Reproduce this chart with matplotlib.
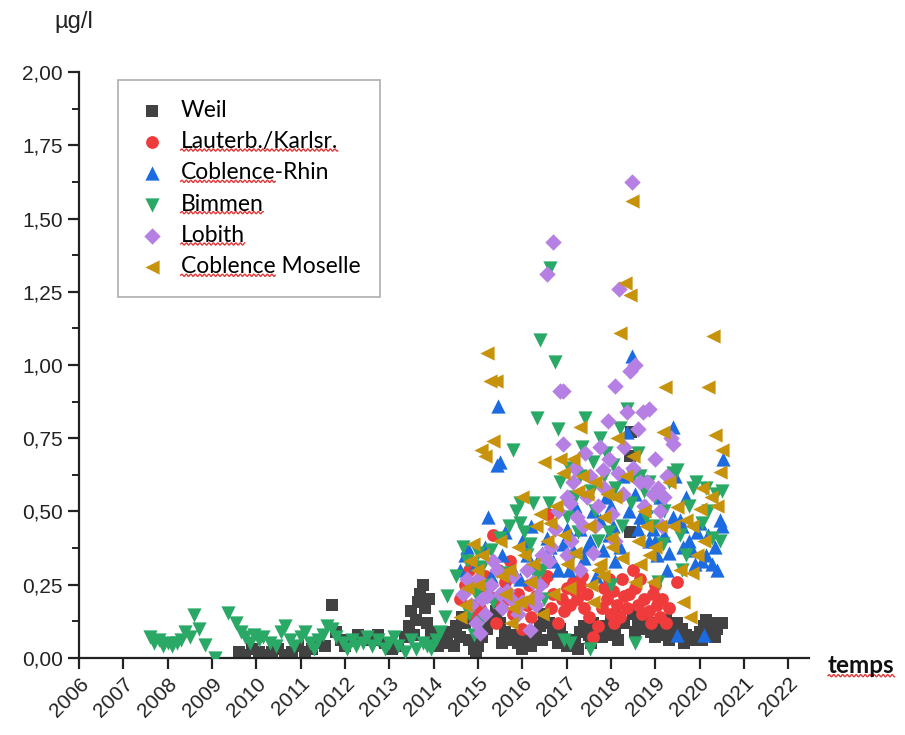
import matplotlib
matplotlib.use("Agg")
import matplotlib.pyplot as plt
import numpy as np
from matplotlib.ticker import MultipleLocator, FuncFormatter
from matplotlib.lines import Line2D
from matplotlib.transforms import IdentityTransform

# --- data (year, µg/l) ---
weil_x = [2009.6, 2009.75, 2009.9, 2010.05, 2010.2, 2010.35, 2010.5, 2010.65, 2010.8, 2010.95,
          2011.1, 2011.25, 2011.4, 2011.55, 2011.7, 2011.8, 2011.9, 2012.0, 2012.15, 2012.3,
          2012.45, 2012.6, 2012.75, 2012.9, 2013.05, 2013.2, 2013.35, 2013.45, 2013.5, 2013.55,
          2013.6, 2013.65, 2013.7, 2013.75, 2013.8, 2013.85, 2013.9, 2013.95, 2014.0, 2014.1,
          2014.2, 2014.3, 2014.4, 2014.5, 2014.6, 2014.7, 2014.8, 2014.9, 2014.95, 2015.0,
          2015.1, 2015.2, 2015.3, 2015.4, 2015.5, 2015.6, 2015.7, 2015.8, 2015.9, 2016.0,
          2016.1, 2016.2, 2016.3, 2016.4, 2016.5, 2016.6, 2016.7, 2016.8, 2016.9, 2017.0,
          2017.1, 2017.2, 2017.3, 2017.4, 2017.5, 2017.6, 2017.7, 2017.8, 2017.9, 2018.0,
          2018.1, 2018.2, 2018.3, 2018.42, 2018.43, 2018.45, 2018.5, 2018.6, 2018.7, 2018.8,
          2018.9, 2019.0, 2019.1, 2019.2, 2019.3, 2019.4, 2019.5, 2019.6, 2019.7, 2019.8,
          2019.9, 2020.0, 2020.05, 2020.1, 2020.2, 2020.3, 2020.4, 2020.5,
          2015.05, 2015.55, 2016.05, 2016.45, 2016.85, 2017.25, 2017.55, 2017.95, 2018.15,
          2018.55, 2018.95, 2019.25, 2019.65, 2020.15, 2020.35, 2014.45, 2014.65]
weil_y = [0.02, 0.01, 0.03, 0.02, 0.01, 0.02, 0.03, 0.01, 0.02, 0.04,
          0.02, 0.03, 0.05, 0.04, 0.18, 0.09, 0.06, 0.04, 0.06, 0.08,
          0.07, 0.06, 0.08, 0.05, 0.03, 0.04, 0.07, 0.11, 0.16, 0.08,
          0.13, 0.19, 0.22, 0.25, 0.17, 0.12, 0.20, 0.09, 0.06, 0.04,
          0.07, 0.05, 0.09, 0.11, 0.07, 0.12, 0.06, 0.03, 0.01, 0.04,
          0.07, 0.10, 0.13, 0.16, 0.12, 0.09, 0.06, 0.08, 0.05, 0.03,
          0.06, 0.04, 0.08, 0.11, 0.15, 0.12, 0.08, 0.05, 0.07, 0.04,
          0.06, 0.05, 0.09, 0.11, 0.08, 0.12, 0.10, 0.07, 0.11, 0.13,
          0.10, 0.14, 0.12, 0.43, 0.69, 0.77, 0.15, 0.12, 0.10, 0.13,
          0.09, 0.07, 0.11, 0.08, 0.06, 0.09, 0.12, 0.10, 0.08, 0.06,
          0.07, 0.09, 0.06, 0.11, 0.08, 0.12, 0.10, 0.12,
          0.10, 0.05, 0.09, 0.06, 0.10, 0.03, 0.05, 0.08, 0.06,
          0.09, 0.12, 0.13, 0.05, 0.13, 0.07, 0.04, 0.14]

lauter_x = [2014.6, 2014.7, 2014.8, 2014.85, 2014.95, 2015.0, 2015.05, 2015.15, 2015.25, 2015.33,
            2015.4, 2015.5, 2015.6, 2015.72, 2015.8, 2015.9, 2016.0, 2016.1, 2016.2, 2016.3,
            2016.46, 2016.55, 2016.58, 2016.65, 2016.8, 2016.9, 2017.0, 2017.07, 2017.14, 2017.23,
            2017.3, 2017.4, 2017.45, 2017.59, 2017.7, 2017.8, 2017.91, 2018.0, 2018.05, 2018.13,
            2018.2, 2018.3, 2018.36, 2018.49, 2018.55, 2018.65, 2018.75, 2018.85, 2018.95, 2019.05,
            2019.1, 2019.15, 2019.25, 2019.48,
            2015.1, 2015.45, 2015.65, 2016.15, 2016.7, 2016.95, 2017.18, 2017.35, 2017.5, 2017.85,
            2018.08, 2018.25, 2018.4, 2018.6, 2018.9, 2019.0, 2019.3, 2016.35, 2017.95, 2018.7]
lauter_y = [0.20, 0.25, 0.30, 0.18, 0.14, 0.23, 0.17, 0.28, 0.21, 0.42,
            0.12, 0.19, 0.26, 0.33, 0.15, 0.22, 0.10, 0.18, 0.14, 0.21,
            0.26, 0.28, 0.49, 0.17, 0.12, 0.20, 0.24, 0.18, 0.26, 0.20,
            0.25, 0.17, 0.22, 0.07, 0.11, 0.17, 0.20, 0.15, 0.23, 0.18,
            0.14, 0.21, 0.17, 0.30, 0.24, 0.27, 0.20, 0.16, 0.22, 0.18,
            0.14, 0.20, 0.12, 0.26,
            0.24, 0.30, 0.20, 0.25, 0.22, 0.16, 0.23, 0.28, 0.14, 0.24,
            0.12, 0.27, 0.22, 0.18, 0.12, 0.25, 0.17, 0.30, 0.27, 0.15]

rhin_x = [2014.6, 2014.7, 2014.75, 2014.85, 2014.95, 2015.05, 2015.22, 2015.3, 2015.43, 2015.45,
          2015.49, 2015.55, 2015.65, 2015.8, 2015.95, 2016.0, 2016.1, 2016.3, 2016.55, 2016.62,
          2016.8, 2016.91, 2017.0, 2017.14, 2017.3, 2017.4, 2017.52, 2017.6, 2017.66, 2017.75,
          2017.82, 2017.95, 2018.0, 2018.1, 2018.27, 2018.36, 2018.47, 2018.55, 2018.65, 2018.72,
          2018.85, 2018.94, 2019.05, 2019.2, 2019.26, 2019.39, 2019.39, 2019.48, 2019.55, 2019.62,
          2019.7, 2019.84, 2019.95, 2020.05, 2020.1, 2020.15, 2020.27, 2020.35, 2020.45, 2020.52,
          2015.15, 2015.6, 2016.2, 2016.45, 2016.7, 2017.05, 2017.2, 2017.45, 2017.9, 2018.05,
          2018.2, 2018.4, 2018.6, 2018.8, 2019.0, 2019.1, 2019.3, 2019.45, 2019.6, 2019.75,
          2019.9, 2020.0, 2020.2, 2020.4, 2020.5]
rhin_y = [0.30, 0.35, 0.38, 0.25, 0.32, 0.22, 0.48, 0.28, 0.66, 0.86,
          0.67, 0.35, 0.24, 0.30, 0.27, 0.40, 0.35, 0.32, 0.41, 0.38,
          0.30, 0.39, 0.44, 0.37, 0.44, 0.34, 0.40, 0.50, 0.28, 0.47,
          0.37, 0.42, 0.52, 0.33, 0.62, 0.77, 1.03, 0.56, 0.48, 0.48,
          0.40, 0.44, 0.35, 0.42, 0.30, 0.79, 0.48, 0.08, 0.47, 0.38,
          0.55, 0.37, 0.43, 0.33, 0.08, 0.35, 0.32, 0.38, 0.47, 0.68,
          0.38, 0.43, 0.45, 0.36, 0.33, 0.30, 0.52, 0.38, 0.55, 0.45,
          0.38, 0.50, 0.44, 0.52, 0.40, 0.55, 0.36, 0.62, 0.45, 0.40,
          0.32, 0.46, 0.42, 0.30, 0.45]

bimmen_x = [2007.6, 2007.7, 2007.8, 2007.9, 2008.0, 2008.1, 2008.2, 2008.3, 2008.4, 2008.5,
            2008.6, 2008.7, 2008.85, 2009.07, 2009.36, 2009.55, 2009.65, 2009.75, 2009.85, 2009.95,
            2010.05, 2010.15, 2010.3, 2010.45, 2010.55, 2010.65, 2010.75, 2010.85, 2011.0, 2011.1,
            2011.2, 2011.3, 2011.4, 2011.5, 2011.6, 2011.7, 2011.8, 2011.95, 2012.05, 2012.15,
            2012.25, 2012.4, 2012.5, 2012.6, 2012.75, 2012.9, 2013.0, 2013.1, 2013.2, 2013.35,
            2013.5, 2013.6, 2013.75, 2013.85, 2013.95, 2014.05, 2014.15, 2014.25, 2014.3, 2014.5,
            2014.66, 2014.75, 2014.8, 2014.9, 2015.0, 2015.1, 2015.2, 2015.35, 2015.5, 2015.6,
            2015.79, 2015.94, 2015.94, 2016.1, 2016.17, 2016.24, 2016.33, 2016.39, 2016.45, 2016.5,
            2016.62, 2016.73, 2016.85, 2016.95, 2017.0, 2017.07, 2017.1, 2017.2, 2017.3, 2017.41,
            2017.52, 2017.55, 2017.65, 2017.75, 2017.85, 2017.95, 2018.0, 2018.1, 2018.2, 2018.36,
            2018.45, 2018.55, 2018.65, 2018.75, 2018.85, 2018.95, 2019.06, 2019.17, 2019.3, 2019.39,
            2019.48, 2019.6, 2019.75, 2019.93, 2020.05, 2020.15, 2020.27, 2020.38, 2020.5,
            2014.95, 2015.05, 2015.3, 2015.7, 2015.85, 2016.05, 2016.3, 2016.6, 2016.8, 2017.05,
            2017.25, 2017.35, 2017.6, 2017.7, 2017.9, 2018.05, 2018.25, 2018.5, 2018.6, 2018.8,
            2019.0, 2019.2, 2019.55, 2019.7, 2019.85, 2020.2, 2020.45]
bimmen_y = [0.07, 0.05, 0.06, 0.04, 0.05, 0.04, 0.05, 0.06, 0.09, 0.07,
            0.145, 0.10, 0.045, 0.00, 0.155, 0.12, 0.09, 0.07, 0.05, 0.08,
            0.06, 0.07, 0.05, 0.04, 0.09, 0.11, 0.06, 0.04, 0.07, 0.09,
            0.05, 0.03, 0.06, 0.08, 0.11, 0.10, 0.07, 0.05, 0.03, 0.06,
            0.04, 0.05, 0.07, 0.04, 0.06, 0.03, 0.05, 0.07, 0.04, 0.02,
            0.06, 0.03, 0.05, 0.04, 0.03, 0.06, 0.09, 0.14, 0.21, 0.28,
            0.38, 0.33, 0.15, 0.08, 0.36, 0.31, 0.25, 0.19, 0.41, 0.29,
            0.71, 0.53, 0.46, 0.35, 0.39, 0.53, 0.82, 1.085, 0.30, 0.20,
            1.33, 1.01, 0.60, 0.06, 0.48, 0.05, 0.34, 0.55, 0.62, 0.82,
            0.03, 0.57, 0.50, 0.75, 0.62, 0.43, 0.25, 0.58, 0.785, 0.85,
            0.53, 0.05, 0.62, 0.57, 0.60, 0.45, 0.26, 0.39, 0.60, 0.63,
            0.64, 0.30, 0.52, 0.60, 0.46, 0.58, 0.41, 0.56, 0.57,
            0.22, 0.12, 0.37, 0.45, 0.50, 0.43, 0.28, 0.53, 0.78, 0.65,
            0.43, 0.72, 0.67, 0.40, 0.70, 0.66, 0.45, 0.62, 0.70, 0.48,
            0.55, 0.50, 0.42, 0.35, 0.58, 0.50, 0.40]

lobith_x = [2014.66, 2014.75, 2014.85, 2014.95, 2015.04, 2015.1, 2015.2, 2015.3, 2015.43, 2015.55,
            2015.65, 2015.8, 2015.9, 2016.0, 2016.17, 2016.25, 2016.33, 2016.45, 2016.55, 2016.6,
            2016.69, 2016.73, 2016.85, 2016.91, 2016.91, 2017.0, 2017.07, 2017.14, 2017.23, 2017.3,
            2017.36, 2017.41, 2017.52, 2017.59, 2017.7, 2017.75, 2017.82, 2017.93, 2018.02, 2018.09,
            2018.1, 2018.18, 2018.27, 2018.36, 2018.42, 2018.47, 2018.55, 2018.65, 2018.72, 2018.81,
            2018.87, 2018.94, 2019.06, 2019.1, 2019.15, 2019.26, 2019.35, 2019.39,
            2015.0, 2015.15, 2015.35, 2015.5, 2015.75, 2016.1, 2016.4, 2016.65, 2016.8, 2017.1,
            2017.2, 2017.45, 2017.65, 2017.85, 2017.95, 2018.15, 2018.3, 2018.5, 2018.6, 2018.75,
            2019.0, 2019.2, 2017.0, 2016.3]
lobith_y = [0.22, 0.27, 0.18, 0.12, 0.085, 0.20, 0.21, 0.25, 0.30, 0.17,
            0.23, 0.28, 0.15, 0.19, 0.095, 0.26, 0.21, 0.35, 1.31, 0.33,
            1.42, 0.44, 0.91, 0.91, 0.73, 0.55, 0.53, 0.60, 0.48, 0.30,
            0.45, 0.70, 0.62, 0.36, 0.52, 0.72, 0.64, 0.81, 0.49, 0.93,
            0.40, 1.26, 0.56, 0.84, 0.98, 1.625, 1.00, 0.60, 0.84, 0.60,
            0.85, 0.56, 0.58, 0.50, 0.45, 0.62, 0.75, 0.73,
            0.27, 0.15, 0.33, 0.22, 0.20, 0.30, 0.25, 0.38, 0.50, 0.40,
            0.65, 0.55, 0.45, 0.58, 0.68, 0.63, 0.72, 0.65, 0.78, 0.52,
            0.68, 0.55, 0.35, 0.18]

moselle_x = [2014.59, 2014.75, 2014.82, 2014.88, 2014.97, 2015.08, 2015.15, 2015.2, 2015.27, 2015.33,
             2015.4, 2015.49, 2015.6, 2015.7, 2015.8, 2015.94, 2016.0, 2016.05, 2016.17, 2016.3,
             2016.39, 2016.5, 2016.55, 2016.62, 2016.7, 2016.85, 2016.91, 2017.0, 2017.14, 2017.25,
             2017.3, 2017.45, 2017.5, 2017.59, 2017.7, 2017.75, 2017.82, 2017.91, 2018.0, 2018.02,
             2018.13, 2018.2, 2018.31, 2018.42, 2018.47, 2018.49, 2018.55, 2018.65, 2018.8, 2018.87,
             2018.94, 2019.1, 2019.17, 2019.21, 2019.39, 2019.48, 2019.62, 2019.78, 2019.84, 2019.84,
             2020.0, 2020.05, 2020.18, 2020.3, 2020.34, 2020.45, 2020.5,
             2014.7, 2015.0, 2015.1, 2015.55, 2015.75, 2015.9, 2016.1, 2016.25, 2016.45, 2016.75,
             2016.95, 2017.05, 2017.2, 2017.35, 2017.55, 2017.65, 2017.85, 2018.1, 2018.25, 2018.35,
             2018.6, 2018.75, 2019.0, 2019.3, 2019.55, 2019.7, 2019.95, 2020.1, 2020.25, 2020.4]
moselle_y = [0.14, 0.24, 0.33, 0.39, 0.30, 0.71, 0.69, 1.04, 0.945, 0.74,
             0.945, 0.40, 0.22, 0.30, 0.17, 0.19, 0.55, 0.35, 0.26, 0.45,
             0.49, 0.67, 0.40, 0.46, 0.22, 0.68, 0.63, 0.32, 0.68, 0.57,
             0.79, 0.56, 0.45, 0.19, 0.30, 0.32, 0.28, 0.56, 0.41, 0.38,
             0.75, 1.11, 1.28, 1.24, 1.56, 0.69, 0.26, 0.32, 0.45, 0.35,
             0.26, 0.45, 0.77, 0.925, 0.45, 0.515, 0.19, 0.14, 0.29, 0.45,
             0.51, 0.58, 0.925, 1.10, 0.76, 0.635, 0.71,
             0.18, 0.25, 0.35, 0.28, 0.12, 0.38, 0.20, 0.32, 0.15, 0.52,
             0.42, 0.24, 0.36, 0.62, 0.25, 0.60, 0.48, 0.55, 0.34, 0.62,
             0.40, 0.50, 0.38, 0.60, 0.30, 0.47, 0.35, 0.40, 0.55, 0.52]

series = [
    ("Weil", weil_x, weil_y, "s", "#424242", 64),
    ("Lauterb./Karlsr.", lauter_x, lauter_y, "o", "#ef3b3b", 85),
    ("Coblence-Rhin", rhin_x, rhin_y, "^", "#1c6be0", 105),
    ("Bimmen", bimmen_x, bimmen_y, "v", "#2aa866", 105),
    ("Lobith", lobith_x, lobith_y, "D", "#b57fe3", 70),
    ("Coblence Moselle", moselle_x, moselle_y, "<", "#c8930c", 105),
]

fig = plt.figure(figsize=(9.05, 7.35), dpi=100)
ax = fig.add_axes([0.0873, 0.1048, 0.8067, 0.7972])

for i, (name, xs, ys, mk, col, s) in enumerate(series):
    ax.scatter(xs, ys, marker=mk, color=col, s=s, linewidths=0, label=name, zorder=2 + i)

ax.set_xlim(2006, 2022.47)
ax.set_ylim(0, 2.0)
ax.set_xticks(range(2006, 2023))
ax.yaxis.set_major_locator(MultipleLocator(0.25))
ax.yaxis.set_minor_locator(MultipleLocator(0.125))
ax.yaxis.set_major_formatter(FuncFormatter(lambda v, p: f"{v:.2f}".replace(".", ",")))

for side in ("top", "right"):
    ax.spines[side].set_visible(False)
for side in ("left", "bottom"):
    ax.spines[side].set_linewidth(1.6)
    ax.spines[side].set_color("#222222")
ax.tick_params(which="major", direction="out", length=8, width=1.6, color="#222222")
ax.tick_params(which="minor", direction="out", length=5, width=1.4, color="#222222")
ax.tick_params(axis="both", labelsize=15, labelcolor="#222222")
for lab in ax.get_yticklabels():
    lab.set_fontfamily("Liberation Sans")
for lab in ax.get_xticklabels():
    lab.set_fontfamily("Liberation Sans")
    lab.set_rotation(45)
    lab.set_ha("right")
    lab.set_rotation_mode("anchor")

leg = ax.legend(loc="upper left", bbox_to_anchor=(0.053, 0.986), frameon=True, fancybox=False,
                edgecolor="#999999", prop={"family": "Lato", "size": 16.5}, handletextpad=0.6,
                labelspacing=0.45, borderpad=0.85, handlelength=1.3, borderaxespad=0)
leg.get_frame().set_linewidth(1.2)

fig.text(0.06, 0.970, "µg/l", fontsize=17, family="Liberation Sans", color="#222222", va="center")
temps = fig.text(0.915, 0.095, "temps", fontsize=17.5, family="Lato", weight="bold",
                 color="#111111", va="center")

# red spell-check squiggles under some words
fig.canvas.draw()
renderer = fig.canvas.get_renderer()


def squiggle(x0, x1, y):
    xs = np.arange(x0, x1, 0.5)
    ys = y + 1.1 * np.sin((xs - x0) / 4.5 * 2 * np.pi)
    fig.add_artist(Line2D(xs, ys, transform=IdentityTransform(), color="#e03a3a", lw=1.0))


underline = {"Lauterb./Karlsr.": None, "Coblence-Rhin": "Coblence", "Bimmen": None,
             "Lobith": None, "Coblence Moselle": "Coblence"}
for t in leg.get_texts():
    txt = t.get_text()
    if txt in underline:
        bb = t.get_window_extent(renderer)
        part = underline[txt]
        if part is None:
            w = bb.width
        else:
            w, _, _ = renderer.get_text_width_height_descent(part, t.get_fontproperties(), ismath=False)
        squiggle(bb.x0, bb.x0 + w, bb.y0 + 2)
bb = temps.get_window_extent(renderer)
squiggle(bb.x0, bb.x1, bb.y0 + 1)

fig.savefig("out.png", dpi=100)
